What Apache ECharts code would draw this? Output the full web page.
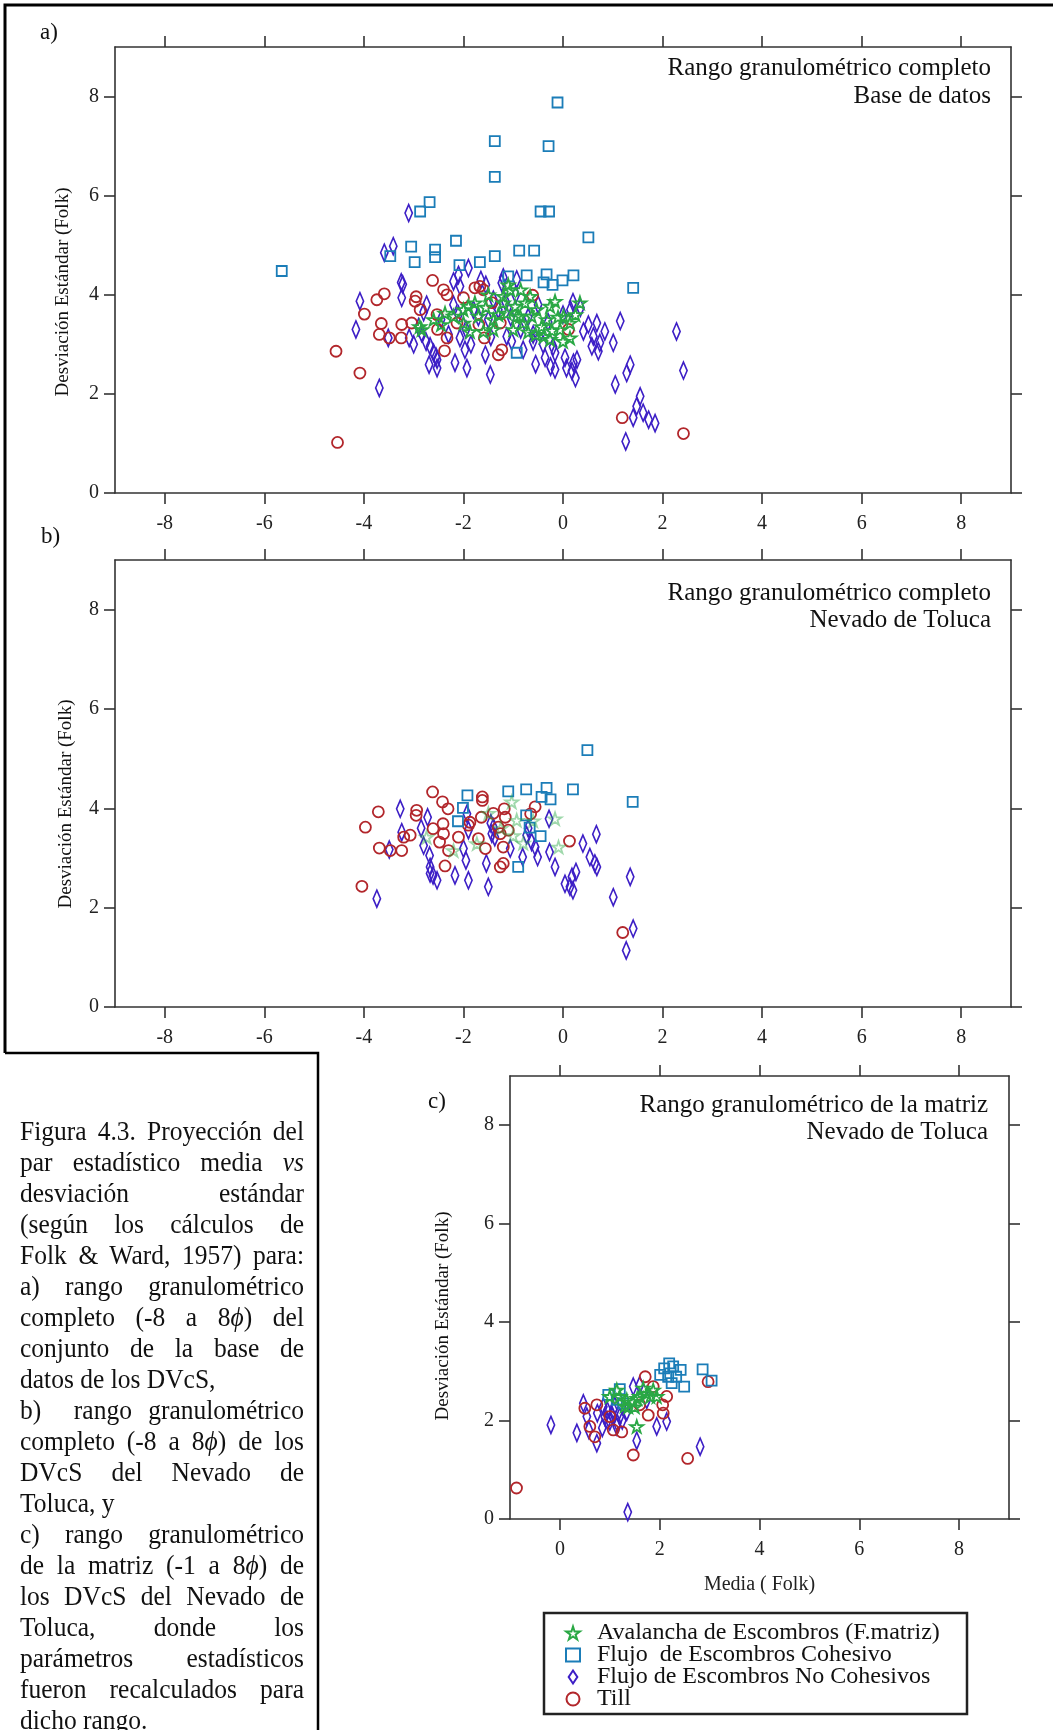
<!DOCTYPE html>
<html>
<head>
<meta charset="utf-8">
<title>Figura 4.3</title>
<script src="https://cdn.jsdelivr.net/npm/echarts@6/dist/echarts.min.js"></script>
<style>
  html, body { margin: 0; padding: 0; background: #fff; }
  #chart { position: absolute; left: 0; top: 0; width: 1053px; height: 1730px; }
  #caption {
    position: absolute; left: 20px; top: 1116px; width: 284px;
    font-family: 'Liberation Serif', 'Times New Roman', serif;
    font-size: 25.5px; line-height: 31px; color: #111;
  }
  #caption div { text-align: justify; text-align-last: justify; white-space: nowrap; transform: scaleY(1.04); }
  #caption div.last { text-align-last: left; }
</style>
</head>
<body>
<div id="chart"></div>
<div id="caption">
  <div>Figura 4.3. Proyección del</div>
  <div>par estadístico media <i>vs</i></div>
  <div>desviación estándar</div>
  <div>(según los cálculos de</div>
  <div>Folk &amp; Ward, 1957) para:</div>
  <div>a) rango granulométrico</div>
  <div>completo (-8 a 8<i>ϕ</i>) del</div>
  <div>conjunto de la base de</div>
  <div class="last">datos de los DVcS,</div>
  <div>b)&nbsp; rango granulométrico</div>
  <div>completo (-8 a 8<i>ϕ</i>) de los</div>
  <div>DVcS del Nevado de</div>
  <div class="last">Toluca, y</div>
  <div>c) rango granulométrico</div>
  <div>de la matriz (-1 a 8<i>ϕ</i>) de</div>
  <div>los DVcS del Nevado de</div>
  <div>Toluca, donde los</div>
  <div>parámetros estadísticos</div>
  <div>fueron recalculados para</div>
  <div class="last">dicho rango.</div>
</div>
<script>
// ---- datos (media, desviación estándar) ----
var seriesNames = ['Avalancha de Escombros (F.matriz)', 'Flujo  de Escombros Cohesivo', 'Flujo de Escombros No Cohesivos', 'Till']

var xTicksFull = [-8, -6, -4, -2, 0, 2, 4, 6, 8]
var xTicksMatrix = [0, 2, 4, 6, 8]
var yTicks = [0, 2, 4, 6, 8]

// a) base de datos completa
var starA = [[-2.84,3.3],[-2.6,3.5],[-2.37,3.63],[-2.2,3.57],[-2.0,3.7],[-1.9,3.77],[-1.77,3.84],[-1.7,3.57],[-1.6,3.26],[-1.4,3.3],[-1.2,3.97],[-1.06,4.1],[-0.96,3.77],[-0.86,3.57],[-0.76,3.84],[-0.66,3.97],[-0.53,3.7],[-0.43,3.36],[-0.33,3.5],[-0.26,3.1],[-0.16,3.87],[-0.06,3.3],[0.01,3.57],[0.14,3.43],[0.14,3.13],[0.34,3.84],[-1.2,3.84],[-1.13,3.63],[-0.93,3.57],[-0.63,3.57],[-2.0,3.43],[-1.87,3.26],[-1.4,3.5],[-0.8,3.43],[-0.39,3.16],[-0.26,3.77],[-2.88,3.36],[-0.22,3.28],[0.0,3.06],[-1.1,4.2],[-0.85,4.1],[-1.5,4.0],[-1.3,3.6],[-1.0,3.3],[-0.55,3.2],[-2.45,3.4],[-1.55,3.75],[-0.1,3.55],[0.25,3.6],[-0.7,3.25]]
var squareA = [[-5.65,4.48],[-0.11,7.88],[-1.37,7.1],[-0.29,7.0],[-1.37,6.38],[-2.68,5.87],[-2.87,5.68],[-0.45,5.68],[-0.28,5.68],[0.51,5.16],[-3.05,4.97],[-2.57,4.91],[-2.57,4.76],[-2.15,5.09],[-3.47,4.78],[-2.98,4.66],[-2.08,4.6],[-1.67,4.66],[-1.37,4.78],[-0.88,4.89],[-0.58,4.89],[-1.1,4.37],[-0.73,4.39],[-0.33,4.41],[-0.39,4.25],[-0.21,4.2],[-0.01,4.29],[0.21,4.39],[1.41,4.14],[-0.93,2.83]]
var diamondA = [[-3.1,5.65],[-3.59,4.85],[-3.41,4.98],[-4.08,3.87],[-4.16,3.3],[-3.69,2.12],[-3.51,3.13],[-3.22,4.21],[-3.24,3.94],[-3.09,3.13],[-2.74,3.8],[-2.84,3.23],[-2.67,2.96],[-2.6,2.83],[-2.53,2.69],[-2.69,2.59],[-2.53,2.52],[-2.17,2.63],[-1.93,2.52],[-1.97,2.89],[-2.07,3.13],[-1.9,4.54],[-2.2,4.27],[-2.07,4.17],[-1.46,2.39],[-1.56,2.79],[-1.23,4.24],[-0.93,4.31],[-0.8,2.89],[-0.6,3.06],[-0.36,2.73],[-0.16,2.83],[-0.16,2.49],[0.04,2.73],[0.07,2.52],[0.21,2.63],[0.28,2.69],[0.18,2.46],[0.25,2.32],[0.15,3.7],[0.35,3.74],[0.41,3.26],[0.51,3.4],[0.61,3.16],[0.68,3.43],[0.58,2.96],[0.71,2.86],[0.74,3.03],[0.84,3.26],[1.01,3.03],[1.15,3.47],[1.05,2.19],[1.28,2.42],[1.35,2.59],[1.55,1.95],[1.48,1.75],[1.61,1.62],[1.41,1.52],[1.72,1.48],[1.85,1.41],[1.26,1.04],[2.28,3.26],[2.42,2.47],[-1.13,3.16],[-1.03,3.06],[-2.9,3.35],[-2.8,3.65],[-2.75,3.05],[-2.45,3.5],[-2.3,3.2],[-2.2,3.8],[-2.1,3.6],[-1.95,3.3],[-1.85,3.0],[-1.8,3.7],[-1.7,3.55],[-1.55,4.2],[-1.5,3.5],[-1.45,3.15],[-1.4,3.9],[-1.3,3.7],[-1.15,3.85],[-1.05,3.55],[-0.95,4.0],[-0.85,3.3],[-0.7,3.55],[-0.6,3.2],[-0.5,3.8],[-0.4,3.0],[-0.3,3.45],[-0.2,2.95],[0.0,3.6],[0.2,3.85],[-2.1,4.4],[-1.65,4.3],[-1.2,4.35],[-3.25,4.25],[-3.0,3.0],[-2.55,2.75],[-0.55,2.6],[-0.25,2.55]]
var circleA = [[-2.62,4.29],[-3.59,4.02],[-3.74,3.9],[-3.99,3.61],[-3.65,3.42],[-3.69,3.2],[-3.49,3.13],[-3.25,3.13],[-3.24,3.4],[-3.04,3.43],[-2.95,3.96],[-2.97,3.87],[-4.56,2.86],[-4.08,2.42],[-4.53,1.02],[-2.4,4.1],[-2.33,4.0],[-2.52,3.3],[-2.33,3.13],[-2.38,2.87],[-2.13,3.43],[-2.53,3.6],[-1.77,4.14],[-1.67,4.17],[-1.6,4.1],[-2.0,3.94],[-1.43,3.84],[-0.61,3.99],[-1.26,3.43],[-1.58,3.13],[-1.23,2.89],[-1.3,2.79],[-1.69,3.4],[1.19,1.52],[2.42,1.2],[-2.87,3.7],[0.11,3.3]]

// b) Nevado de Toluca, rango completo
var starB = [[-1.03,4.13],[-0.93,3.76],[-0.6,3.75],[-0.16,3.79],[-0.09,3.22],[-1.73,3.29],[-2.74,3.42],[-1.25,3.6],[-0.8,3.3],[-1.5,3.9],[-2.2,3.15],[-1.0,3.45]]
var squareB = [[0.49,5.17],[-1.92,4.26],[-1.1,4.34],[-0.74,4.38],[-0.33,4.41],[-0.43,4.23],[-0.25,4.18],[0.2,4.38],[1.4,4.13],[-2.01,4.01],[-2.11,3.74],[-0.74,3.86],[-0.67,3.61],[-0.45,3.44],[-0.9,2.82]]
var diamondB = [[-3.27,3.99],[-3.24,3.52],[-3.49,3.17],[-3.74,2.18],[-2.72,3.82],[-2.8,3.25],[-2.68,3.05],[-2.67,2.82],[-2.61,2.65],[-2.53,2.55],[-2.67,2.69],[-2.17,2.65],[-1.9,2.55],[-1.95,2.95],[-2.0,3.19],[-1.93,3.89],[-1.5,2.42],[-1.54,2.89],[-1.43,3.49],[-1.4,3.62],[-1.37,3.42],[-1.06,3.19],[-0.81,3.02],[-0.73,3.46],[-0.63,3.32],[-0.56,3.22],[-0.51,3.02],[-0.28,3.79],[-0.27,3.12],[-0.16,2.82],[0.04,2.48],[0.18,2.62],[0.26,2.72],[0.2,2.35],[0.14,2.42],[0.4,3.29],[0.54,3.02],[0.64,2.89],[0.68,2.82],[0.67,3.48],[1.01,2.21],[1.35,2.62],[1.41,1.58],[1.27,1.14],[-1.9,3.56],[-2.85,3.6],[-1.45,3.7],[-0.7,3.6]]
var circleB = [[-2.62,4.33],[-2.42,4.13],[-2.31,3.99],[-3.71,3.93],[-3.97,3.62],[-3.69,3.2],[-3.47,3.15],[-3.24,3.15],[-3.2,3.42],[-3.07,3.46],[-2.94,3.96],[-2.95,3.86],[-2.61,3.59],[-2.41,3.69],[-2.4,3.49],[-2.48,3.32],[-2.3,3.15],[-2.37,2.84],[-2.1,3.42],[-1.87,3.72],[-1.9,3.66],[-1.62,4.23],[-1.62,4.16],[-1.64,3.82],[-1.7,3.39],[-1.56,3.19],[-1.4,3.9],[-1.18,3.99],[-1.16,3.82],[-1.3,3.62],[-1.26,3.49],[-1.2,3.22],[-1.2,2.89],[-1.26,2.82],[-1.1,3.56],[-0.56,4.03],[-0.65,3.89],[0.13,3.34],[-4.04,2.43],[1.2,1.5]]

// c) Nevado de Toluca, rango de la matriz
var starC = [[1.2,2.49],[1.34,2.42],[1.47,2.38],[1.6,2.49],[1.74,2.55],[1.87,2.62],[1.81,2.49],[1.5,2.28],[1.37,2.28],[1.94,2.49],[1.0,2.49],[1.14,2.62],[1.67,2.66],[1.54,1.88],[1.3,2.3],[1.55,2.45]]
var squareC = [[2.19,3.16],[2.09,3.06],[2.27,3.1],[2.42,3.03],[2.33,2.89],[2.17,2.89],[2.01,2.93],[2.86,3.04],[3.04,2.81],[2.49,2.69],[2.24,2.76],[1.2,2.64],[0.97,2.52],[1.14,2.42],[1.27,2.35]]
var diamondC = [[-0.18,1.91],[0.34,1.75],[0.47,2.35],[0.54,2.08],[0.74,1.54],[0.58,1.81],[1.54,1.59],[1.94,1.88],[2.14,1.98],[2.81,1.47],[0.9,2.08],[1.0,1.98],[1.14,1.88],[1.2,2.08],[1.34,2.18],[0.87,2.28],[1.07,2.22],[1.47,2.69],[1.6,2.72],[1.74,2.42],[1.36,0.14],[0.95,2.0],[1.05,2.1],[1.15,1.95],[0.85,1.85],[1.25,2.0],[0.75,2.15],[1.1,2.3],[0.95,2.2]]
var circleC = [[1.71,2.89],[2.97,2.79],[2.14,2.49],[2.06,2.32],[2.07,2.15],[1.77,2.11],[1.87,2.69],[1.24,1.77],[0.6,1.88],[0.7,1.67],[0.5,2.25],[0.74,2.32],[1.47,1.3],[2.56,1.23],[1.0,2.08],[1.07,1.81],[1.6,2.32],[-0.87,0.63]]

// ---- estilo ----
var SERIF = "'Liberation Serif', 'Times New Roman', serif"
var AXIS_COLOR = '#333'
var STAR = 'path://M50,0 L61,35 L98,35 L68,57 L79,91 L50,70 L21,91 L32,57 L2,35 L39,35 Z'
var DIAMOND = 'path://M6,0 L12,9 L6,18 L0,9 Z'

var markers = [
  { symbol: STAR, size: 13, color: '#2aa845' },
  { symbol: 'rect', size: 10, color: '#1b7db8' },
  { symbol: DIAMOND, size: [11, 17], color: '#3d1fc6' },
  { symbol: 'circle', size: 11, color: '#b2262b' }
]

var chart = echarts.init(document.getElementById('chart'))

function xAxes (gridIndex, min, max, ticks, name) {
  var line = { show: true, onZero: false, lineStyle: { color: AXIS_COLOR, width: 1.6 } }
  var tick = { show: true, length: 11, customValues: ticks, lineStyle: { color: AXIS_COLOR, width: 1.6 } }
  return [
    {
      type: 'value', gridIndex: gridIndex, position: 'bottom', min: min, max: max,
      axisLine: line, axisTick: tick, splitLine: { show: false },
      axisLabel: { customValues: ticks, margin: 21, fontSize: 20, fontFamily: SERIF, color: '#222' },
      name: name || '', nameLocation: 'middle', nameGap: 56,
      nameTextStyle: { fontSize: 20, fontFamily: SERIF, color: '#222' }
    },
    {
      type: 'value', gridIndex: gridIndex, position: 'top', min: min, max: max,
      axisLine: line, axisTick: tick, splitLine: { show: false },
      axisLabel: { show: false }
    }
  ]
}

function yAxes (gridIndex) {
  var line = { show: true, onZero: false, lineStyle: { color: AXIS_COLOR, width: 1.6 } }
  var tick = { show: true, length: 11, customValues: yTicks, lineStyle: { color: AXIS_COLOR, width: 1.6 } }
  return [
    {
      type: 'value', gridIndex: gridIndex, position: 'left', min: 0, max: 9,
      axisLine: line, axisTick: tick, splitLine: { show: false },
      axisLabel: { customValues: yTicks, margin: 16, fontSize: 20, fontFamily: SERIF, color: '#222' }
    },
    {
      type: 'value', gridIndex: gridIndex, position: 'right', min: 0, max: 9,
      axisLine: line, axisTick: tick, splitLine: { show: false },
      axisLabel: { show: false }
    }
  ]
}

function scatter (k, data, panel, opacity) {
  var m = markers[k]
  return {
    name: seriesNames[k],
    type: 'scatter',
    xAxisIndex: panel * 2,
    yAxisIndex: panel * 2,
    data: data,
    symbol: m.symbol,
    symbolSize: m.size,
    symbolKeepAspect: true,
    itemStyle: { color: 'rgba(0,0,0,0)', borderColor: m.color, borderWidth: 1.8, opacity: opacity || 1 },
    emphasis: { disabled: true },
    z: k === 0 ? 4 : 3
  }
}

var panels = [
  [starA, squareA, diamondA, circleA],
  [starB, squareB, diamondB, circleB],
  [starC, squareC, diamondC, circleC]
]
var drawOrder = [2, 3, 1, 0]
var series = []
panels.forEach(function (sets, p) {
  drawOrder.forEach(function (k) {
    series.push(scatter(k, sets[k], p, (p === 1 && k === 0) ? 0.45 : 1))
  })
})

function label (text, x, y, size, align, rotation) {
  return {
    type: 'text', x: x, y: y, silent: true, rotation: rotation || 0,
    style: { text: text, fontSize: size, fontFamily: SERIF, fill: '#111', align: align || 'left', verticalAlign: 'middle' }
  }
}

var yName = 'Desviación Estándar (Folk)'

var option = {
  animation: false,
  backgroundColor: '#fff',
  grid: [
    { left: 115, top: 47, width: 896, height: 446 },
    { left: 115, top: 560, width: 896, height: 447 },
    { left: 510, top: 1076, width: 499, height: 443 }
  ],
  xAxis: []
    .concat(xAxes(0, -9, 9, xTicksFull))
    .concat(xAxes(1, -9, 9, xTicksFull))
    .concat(xAxes(2, -1, 9, xTicksMatrix, 'Media ( Folk)')),
  yAxis: []
    .concat(yAxes(0))
    .concat(yAxes(1))
    .concat(yAxes(2)),
  legend: {
    orient: 'vertical', left: 560, top: 1616, itemGap: -2, itemWidth: 14, itemHeight: 13,
    data: seriesNames, selectedMode: false,
    textStyle: { fontSize: 24, lineHeight: 22, fontFamily: SERIF, color: '#111', padding: [0, 0, 0, 12] }
  },
  graphic: [
    // marco de la página
    { type: 'polyline', silent: true, shape: { points: [[5, 1053], [5, 5], [1053, 5]] }, style: { stroke: '#000', lineWidth: 3, fill: null } },
    { type: 'polyline', silent: true, shape: { points: [[5, 1053], [318, 1053], [318, 1730]] }, style: { stroke: '#000', lineWidth: 2.5, fill: null } },
    // recuadro de la leyenda
    { type: 'rect', silent: true, shape: { x: 544, y: 1613, width: 423, height: 101 }, style: { stroke: '#222', lineWidth: 2.5, fill: null } },
    label('a)', 40, 33, 23), label('b)', 41, 537, 23), label('c)', 428, 1102, 23),
    label(yName, 63, 292, 19, 'center', Math.PI / 2),
    label(yName, 66, 804, 19, 'center', Math.PI / 2),
    label(yName, 443, 1316, 19, 'center', Math.PI / 2),
    label('Rango granulométrico completo', 991, 68, 25, 'right'),
    label('Base de datos', 991, 96, 25, 'right'),
    label('Rango granulométrico completo', 991, 593, 25, 'right'),
    label('Nevado de Toluca', 991, 620, 25, 'right'),
    label('Rango granulométrico de la matriz', 988, 1105, 25, 'right'),
    label('Nevado de Toluca', 988, 1132, 25, 'right')
  ],
  series: series
}

chart.setOption(option)
</script>
</body>
</html>
